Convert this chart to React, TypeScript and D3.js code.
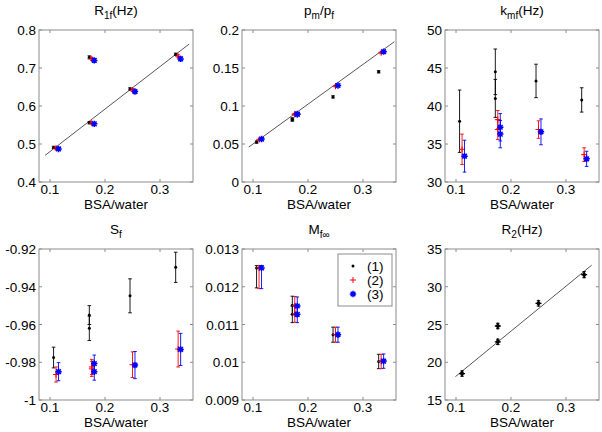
import React from 'react';
import * as d3 from 'd3';

// ---------------- data ----------------
const X_BASE = [0.111, 0.176, 0.176, 0.25, 0.333];
const SERIES_LABELS = ['(1)', '(2)', '(3)'];
const SERIES_COLORS = ['#000000', '#ff0000', '#0000ff'];
const SERIES_MARKERS = ['dot', 'plus', 'star'];
const SERIES_DX = [-0.0045, 0, 0.0045];
const X_TICKS = [0.1, 0.2, 0.3];
const X_TICK_LABELS = ['0.1', '0.2', '0.3'];
const X_DOMAIN = [0.08, 0.36];

// R1f (Hz)
const R1F_Y = [
  [0.491, 0.728, 0.556, 0.645, 0.736],
  [0.489, 0.724, 0.555, 0.642, 0.731],
  [0.487, 0.72, 0.553, 0.638, 0.724],
];
const R1F_ERR = [
  [0.003, 0.004, 0.003, 0.003, 0.003],
  [0.004, 0.004, 0.003, 0.004, 0.004],
  [0.004, 0.005, 0.004, 0.004, 0.005],
];
const R1F_FIT_X = [0.091, 0.353];
const R1F_FIT_Y = [0.47, 0.763];
const R1F_TICKS = [0.4, 0.5, 0.6, 0.7, 0.8];
const R1F_TICK_LABELS = ['0.4', '0.5', '0.6', '0.7', '0.8'];

// pm/pf
const PMPF_Y = [
  [0.0525, 0.0815, 0.083, 0.112, 0.145],
  [0.0555, 0.089, 0.0895, 0.126, 0.17],
  [0.0565, 0.0895, 0.089, 0.127, 0.1715],
];
const PMPF_ERR = [
  [0.0015, 0.0015, 0.0015, 0.0015, 0.0015],
  [0.001, 0.001, 0.001, 0.001, 0.0012],
  [0.001, 0.001, 0.001, 0.001, 0.0012],
];
const PMPF_FIT_X = [0.0923, 0.357];
const PMPF_FIT_Y = [0.046, 0.1846];
const PMPF_TICKS = [0, 0.05, 0.1, 0.15, 0.2];
const PMPF_TICK_LABELS = ['0', '0.05', '0.1', '0.15', '0.2'];

// kmf (Hz)
const KMF_Y = [
  [38.0, 44.5, 41.0, 43.3, 40.8],
  [34.3, 38.2, 36.9, 36.9, 33.6],
  [33.4, 37.2, 36.3, 36.6, 33.05],
];
const KMF_ERR = [
  [4.1, 3.0, 2.5, 2.2, 1.6],
  [2.0, 1.2, 1.3, 1.15, 0.9],
  [2.1, 1.8, 1.8, 1.7, 1.0],
];
const KMF_TICKS = [30, 35, 40, 45, 50];
const KMF_TICK_LABELS = ['30', '35', '40', '45', '50'];

// Sf
const SF_Y = [
  [-0.9775, -0.955, -0.962, -0.9448, -0.9297],
  [-0.9865, -0.9825, -0.9835, -0.9813, -0.973],
  [-0.985, -0.9807, -0.985, -0.9815, -0.9732],
];
const SF_ERR = [
  [0.0055, 0.005, 0.0065, 0.009, 0.008],
  [0.004, 0.004, 0.004, 0.0068, 0.0095],
  [0.0048, 0.0045, 0.0045, 0.0072, 0.0085],
];
const SF_TICKS = [-1, -0.98, -0.96, -0.94, -0.92];
const SF_TICK_LABELS = ['-1', '-0.98', '-0.96', '-0.94', '-0.92'];

// Mf_inf
const MF_Y = [
  [0.0125, 0.01151, 0.01127, 0.01073, 0.01002],
  [0.0125, 0.0115, 0.01128, 0.01073, 0.01002],
  [0.0125, 0.01149, 0.01127, 0.01073, 0.01003],
];
const MF_ERR_LO = [
  [0.00053, 0.00024, 0.00022, 0.0002, 0.00019],
  [0.00055, 0.00024, 0.00022, 0.0002, 0.00019],
  [0.00055, 0.00024, 0.00022, 0.0002, 0.00019],
];
const MF_ERR_HI = [
  [0.00006, 0.00024, 0.00022, 0.0002, 0.00019],
  [0.00006, 0.00024, 0.00022, 0.0002, 0.00019],
  [0.00006, 0.00024, 0.00022, 0.0002, 0.00019],
];
const MF_TICKS = [0.009, 0.01, 0.011, 0.012, 0.013];
const MF_TICK_LABELS = ['0.009', '0.01', '0.011', '0.012', '0.013'];

// R2 (Hz)
const R2_Y = [18.5, 24.8, 22.7, 27.8, 31.6];
const R2_ERR = [0.35, 0.35, 0.35, 0.35, 0.4];
const R2_FIT_X = [0.099, 0.3467];
const R2_FIT_Y = [18.1, 32.86];
const R2_TICKS = [15, 20, 25, 30, 35];
const R2_TICK_LABELS = ['15', '20', '25', '30', '35'];

// ---------------- layout ----------------
const W = 602;
const H = 432;
const COL_X = [39, 242, 445];
const PW = 154;
const ROW_Y = [30, 249];
const PH = [152, 151];
const FONT = 'Liberation Sans, Arial, Helvetica, sans-serif';
const FS = 13.5;
const AXIS_COLOR = '#8c8c8c';

type Series = { y: number[]; eLo: number[]; eHi: number[]; color: string; marker: string; dx: number };

function Marker({ kind, x, y, color }: { kind: string; x: number; y: number; color: string }) {
  if (kind === 'dot') return <circle cx={x} cy={y} r={1.5} fill={color} />;
  if (kind === 'plus')
    return <path d={`M${x - 3},${y}H${x + 3}M${x},${y - 3}V${y + 3}`} stroke={color} strokeWidth={1} fill="none" />;
  if (kind === 'star') {
    const a = 3.2;
    const b = 2.3;
    return (
      <path
        d={`M${x - a},${y}H${x + a}M${x},${y - a}V${y + a}M${x - b},${y - b}L${x + b},${y + b}M${x - b},${y + b}L${x + b},${y - b}`}
        stroke={color}
        strokeWidth={1.5}
        fill="none"
      />
    );
  }
  if (kind === 'bigplus')
    return (
      <g>
        <path d={`M${x - 3},${y}H${x + 3}M${x},${y - 3.5}V${y + 3.5}`} stroke={color} strokeWidth={1.4} fill="none" />
        <circle cx={x} cy={y} r={2} fill={color} />
      </g>
    );
  return null;
}

function Title({ x, y, parts }: { x: number; y: number; parts: [string, boolean][] }) {
  let prevSub = false;
  return (
    <text x={x} y={y} textAnchor="middle" fontFamily={FONT} fontSize={FS} fill="#000">
      {parts.map(([t, sub], i) => {
        const dy = sub && !prevSub ? 4 : !sub && prevSub ? -4 : 0;
        prevSub = sub;
        return (
          <tspan key={i} dy={dy} fontSize={sub ? 10 : FS}>
            {t}
          </tspan>
        );
      })}
    </text>
  );
}

function Panel({
  col,
  row,
  title,
  yDomain,
  yTicks,
  yTickLabels,
  series,
  fit,
  legend,
}: {
  col: number;
  row: number;
  title: [string, boolean][];
  yDomain: number[];
  yTicks: number[];
  yTickLabels: string[];
  series: Series[];
  fit?: { x: number[]; y: number[] };
  legend?: boolean;
}) {
  const x0 = COL_X[col];
  const y0 = ROW_Y[row];
  const h = PH[row];
  const xs = d3.scaleLinear().domain(X_DOMAIN).range([x0, x0 + PW]);
  const ys = d3.scaleLinear().domain(yDomain).range([y0 + h, y0]);
  const tl = 3;
  const line = d3
    .line<number>()
    .x((d) => xs(fit!.x[d]))
    .y((d) => ys(fit!.y[d]));
  const cap = 1.8;
  return (
    <g>
      <rect x={x0} y={y0} width={PW} height={h} fill="#fff" stroke="none" />
      {fit && <path d={line([0, 1]) || ''} stroke="#444" strokeWidth={0.9} fill="none" />}
      {series.map((s, si) => (
        <g key={si}>
          {s.y.map((v, i) => {
            const cx = xs(X_BASE[i] + s.dx);
            const yt = ys(v + s.eHi[i]);
            const yb = ys(v - s.eLo[i]);
            return (
              <g key={i}>
                <path
                  d={`M${cx},${yt}V${yb}M${cx - cap},${yt}H${cx + cap}M${cx - cap},${yb}H${cx + cap}`}
                  stroke={s.color}
                  strokeWidth={0.9}
                  fill="none"
                />
                <Marker kind={s.marker} x={cx} y={ys(v)} color={s.color} />
              </g>
            );
          })}
        </g>
      ))}
      {/* box */}
      <rect x={x0} y={y0} width={PW} height={h} fill="none" stroke={AXIS_COLOR} strokeWidth={1} />
      {X_TICKS.map((t, i) => (
        <g key={'xt' + i}>
          <line x1={xs(t)} x2={xs(t)} y1={y0 + h} y2={y0 + h - tl} stroke={AXIS_COLOR} />
          <line x1={xs(t)} x2={xs(t)} y1={y0} y2={y0 + tl} stroke={AXIS_COLOR} />
          <text x={xs(t)} y={y0 + h + 12} textAnchor="middle" fontFamily={FONT} fontSize={FS} fill="#000">
            {X_TICK_LABELS[i]}
          </text>
        </g>
      ))}
      {yTicks.map((t, i) => (
        <g key={'yt' + i}>
          <line x1={x0} x2={x0 + tl} y1={ys(t)} y2={ys(t)} stroke={AXIS_COLOR} />
          <line x1={x0 + PW} x2={x0 + PW - tl} y1={ys(t)} y2={ys(t)} stroke={AXIS_COLOR} />
          <text x={x0 - 3} y={ys(t) + 5} textAnchor="end" fontFamily={FONT} fontSize={FS} fill="#000">
            {yTickLabels[i]}
          </text>
        </g>
      ))}
      <text x={x0 + PW / 2} y={y0 + h + 27} textAnchor="middle" fontFamily={FONT} fontSize={FS} fill="#000">
        BSA/water
      </text>
      <Title x={x0 + PW / 2} y={y0 - 15} parts={title} />
      {legend && (
        <g>
          <rect x={338} y={254} width={54} height={52} fill="#fff" stroke={AXIS_COLOR} strokeWidth={1} />
          {SERIES_LABELS.map((lab, i) => (
            <g key={lab}>
              <Marker kind={SERIES_MARKERS[i]} x={353} y={266 + i * 14} color={SERIES_COLORS[i]} />
              <text x={367} y={271 + i * 14} fontFamily={FONT} fontSize={FS} fill="#000">
                {lab}
              </text>
            </g>
          ))}
        </g>
      )}
    </g>
  );
}

function mk(ys: number[][], eLo: number[][], eHi?: number[][]): Series[] {
  return ys.map((y, i) => ({
    y,
    eLo: eLo[i],
    eHi: (eHi || eLo)[i],
    color: SERIES_COLORS[i],
    marker: SERIES_MARKERS[i],
    dx: SERIES_DX[i],
  }));
}

export default function App() {
  const r2Series: Series[] = [
    { y: R2_Y, eLo: R2_ERR, eHi: R2_ERR, color: '#000', marker: 'bigplus', dx: 0 },
  ];
  return (
    <svg
      width={W}
      height={H}
      viewBox={`0 0 ${W} ${H}`}
      style={{ position: 'absolute', left: 0, top: 0, background: '#fff' }}
    >
      <rect x={0} y={0} width={W} height={H} fill="#fff" />
      <Panel
        col={0}
        row={0}
        title={[['R', false], ['1f', true], ['(Hz)', false]]}
        yDomain={[0.4, 0.8]}
        yTicks={R1F_TICKS}
        yTickLabels={R1F_TICK_LABELS}
        series={mk(R1F_Y, R1F_ERR)}
        fit={{ x: R1F_FIT_X, y: R1F_FIT_Y }}
      />
      <Panel
        col={1}
        row={0}
        title={[['p', false], ['m', true], ['/p', false], ['f', true]]}
        yDomain={[0, 0.2]}
        yTicks={PMPF_TICKS}
        yTickLabels={PMPF_TICK_LABELS}
        series={mk(PMPF_Y, PMPF_ERR)}
        fit={{ x: PMPF_FIT_X, y: PMPF_FIT_Y }}
      />
      <Panel
        col={2}
        row={0}
        title={[['k', false], ['mf', true], ['(Hz)', false]]}
        yDomain={[30, 50]}
        yTicks={KMF_TICKS}
        yTickLabels={KMF_TICK_LABELS}
        series={mk(KMF_Y, KMF_ERR)}
      />
      <Panel
        col={0}
        row={1}
        title={[['S', false], ['f', true]]}
        yDomain={[-1, -0.92]}
        yTicks={SF_TICKS}
        yTickLabels={SF_TICK_LABELS}
        series={mk(SF_Y, SF_ERR)}
      />
      <Panel
        col={1}
        row={1}
        title={[['M', false], ['f\u221E', true]]}
        yDomain={[0.009, 0.013]}
        yTicks={MF_TICKS}
        yTickLabels={MF_TICK_LABELS}
        series={mk(MF_Y, MF_ERR_LO, MF_ERR_HI)}
        legend
      />
      <Panel
        col={2}
        row={1}
        title={[['R', false], ['2', true], ['(Hz)', false]]}
        yDomain={[15, 35]}
        yTicks={R2_TICKS}
        yTickLabels={R2_TICK_LABELS}
        series={r2Series}
        fit={{ x: R2_FIT_X, y: R2_FIT_Y }}
      />
    </svg>
  );
}
